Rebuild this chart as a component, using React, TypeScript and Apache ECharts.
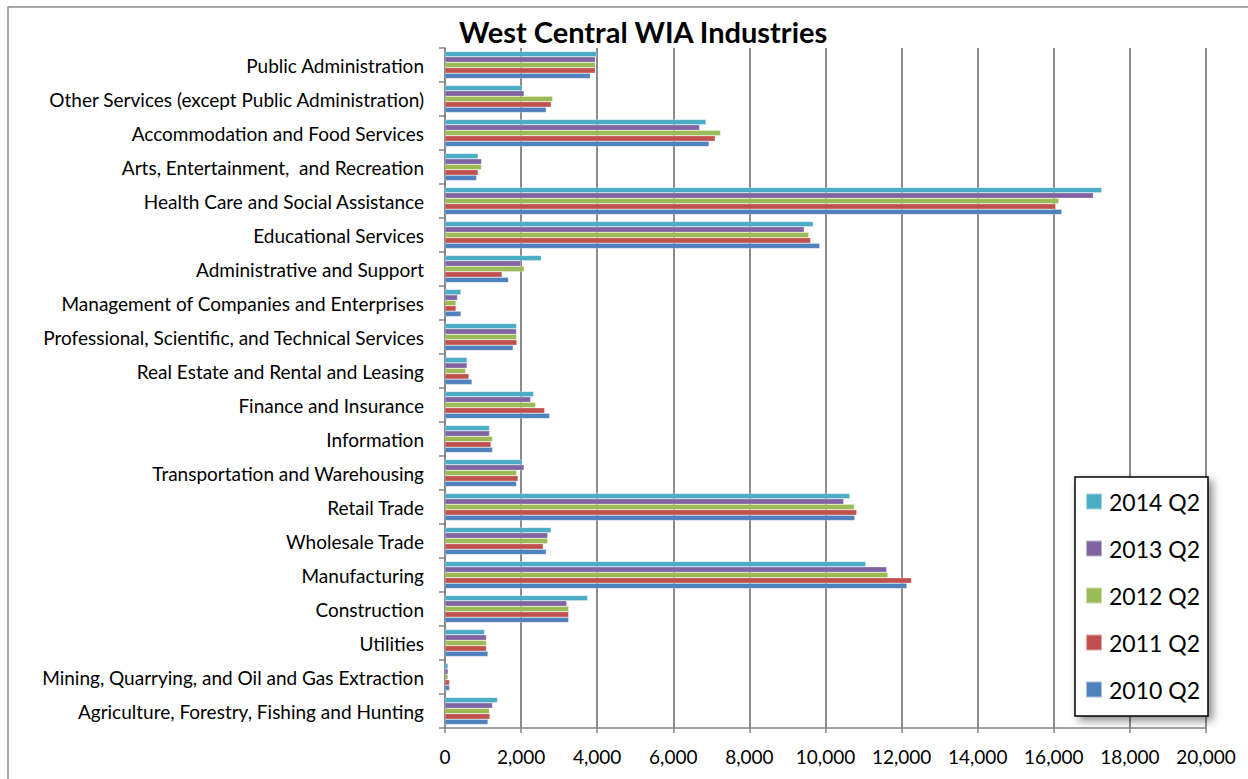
import React, { useEffect, useRef } from "react";
import * as echarts from "echarts";

const categories = [
  "Agriculture, Forestry, Fishing and Hunting",
  "Mining, Quarrying, and Oil and Gas Extraction",
  "Utilities",
  "Construction",
  "Manufacturing",
  "Wholesale Trade",
  "Retail Trade",
  "Transportation and Warehousing",
  "Information",
  "Finance and Insurance",
  "Real Estate and Rental and Leasing",
  "Professional, Scientific, and Technical Services",
  "Management of Companies and Enterprises",
  "Administrative and Support",
  "Educational Services",
  "Health Care and Social Assistance",
  "Arts, Entertainment,  and Recreation",
  "Accommodation and Food Services",
  "Other Services (except Public Administration)",
  "Public Administration",
];

// ECharts stacks the first series at the top of each band
const seriesNames = ["2014 Q2", "2013 Q2", "2012 Q2", "2011 Q2", "2010 Q2"];
const colors = ["#4BACC6", "#8064A2", "#9BBB59", "#C0504D", "#4F81BD"];

const v2010 = [1130, 120, 1130, 3250, 12140, 2660, 10770, 1880, 1250, 2750, 710, 1790, 420, 1670, 9850, 16210, 830, 6940, 2660, 3820];
const v2011 = [1180, 120, 1090, 3250, 12260, 2580, 10820, 1920, 1210, 2620, 630, 1890, 290, 1500, 9610, 16050, 870, 7100, 2790, 3950];
const v2012 = [1170, 80, 1090, 3250, 11640, 2700, 10760, 1880, 1250, 2380, 540, 1880, 290, 2080, 9560, 16130, 960, 7240, 2830, 3950];
const v2013 = [1250, 80, 1090, 3200, 11610, 2700, 10480, 2080, 1170, 2250, 580, 1880, 330, 1990, 9440, 17040, 960, 6690, 2080, 3950];
const v2014 = [1380, 80, 1040, 3750, 11060, 2790, 10640, 2030, 1170, 2330, 580, 1880, 420, 2530, 9680, 17260, 870, 6860, 2030, 3990];

const allValues = [v2014, v2013, v2012, v2011, v2010];

export default function App() {
  const ref = useRef<HTMLDivElement>(null);
  useEffect(() => {
    if (!ref.current) return;
    const chart = echarts.init(ref.current, null, { renderer: "svg" });
    const font = "Lato, 'Liberation Sans', sans-serif";
    chart.setOption({
      animation: false,
      backgroundColor: "#ffffff",
      title: {
        text: "West Central WIA Industries",
        left: 454,
        top: 12,
        textStyle: { fontFamily: font, fontWeight: "bold", fontSize: 29, color: "#000" },
      },
      graphic: [
        {
          type: "rect",
          shape: { x: 8, y: 7, width: 1300, height: 900 },
          style: { fill: "none", stroke: "#8c8c8c", lineWidth: 1.5 },
          silent: true,
          z: -10,
        },
      ],
      legend: {
        orient: "vertical",
        left: 1075,
        top: 477,
        data: seriesNames,
        itemWidth: 16,
        itemHeight: 16,
        itemGap: 24,
        padding: [13, 8, 15, 10],
        backgroundColor: "#fff",
        borderColor: "#000",
        borderWidth: 1.5,
        shadowBlur: 8,
        shadowColor: "rgba(0,0,0,0.45)",
        shadowOffsetX: 4,
        shadowOffsetY: 4,
        icon: "rect",
        textStyle: { fontFamily: font, fontSize: 23, color: "#000", padding: [0, 0, 0, 2] },
      },
      grid: { left: 445, right: 42, top: 48, bottom: 51, containLabel: false },
      xAxis: {
        type: "value",
        min: 0,
        max: 20000,
        interval: 2000,
        axisLine: { show: true, lineStyle: { color: "#868686", width: 1.5 } },
        axisTick: { show: true, length: 5, lineStyle: { color: "#868686", width: 1.5 } },
        splitLine: { show: true, lineStyle: { color: "#8c8c8c", width: 2 } },
        axisLabel: {
          margin: 19,
          fontFamily: font,
          fontSize: 19,
          color: "#000",
          formatter: (v: number) => v.toLocaleString("en-US"),
        },
      },
      yAxis: {
        type: "category",
        data: categories,
        axisLine: { show: true, lineStyle: { color: "#868686", width: 1.5 } },
        axisTick: { show: true, length: 6, lineStyle: { color: "#868686", width: 1.5 } },
        axisLabel: { margin: 21, fontFamily: font, fontSize: 19, color: "#000" },
      },
      series: seriesNames.map((name, i) => ({
        name,
        type: "bar",
        data: allValues[i],
        barGap: "0%",
        barCategoryGap: "20%",
        itemStyle: { color: colors[i], borderColor: "rgba(255,255,255,0.5)", borderWidth: 0.5 },
      })),
    });
    return () => chart.dispose();
  }, []);
  return (
    <div
      ref={ref}
      style={{ position: "absolute", left: 0, top: 0, width: 1248, height: 779 }}
    />
  );
}
